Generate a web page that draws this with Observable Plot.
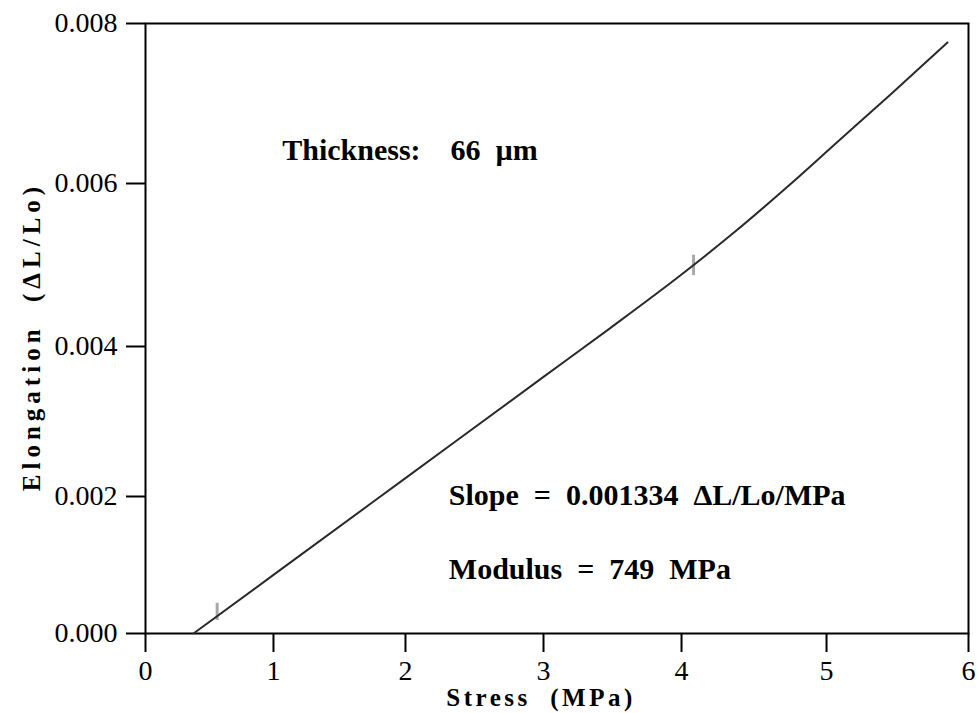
<!DOCTYPE html>
<html>
<head>
<meta charset="utf-8">
<script src="https://cdn.jsdelivr.net/npm/d3@7"></script>
<script src="https://cdn.jsdelivr.net/npm/@observablehq/plot@0.6"></script>
<style>
  html, body { margin: 0; padding: 0; background: white; }
</style>
</head>
<body>
<div id="chart"></div>
<script>
const stress     = [0.375, 1.0, 2.0, 3.0, 3.486, 4.0, 4.372, 4.752, 5.049, 5.451, 5.852];
const elongation = [0.0, 0.000855, 0.002245, 0.003595, 0.004229, 0.004883, 0.005413, 0.005994, 0.006475, 0.007113, 0.007763];

// Fit-range markers (small grey ticks on the trace)
const markerX  = [0.56, 4.083];
const markerY1 = [0.00019, 0.00487];
const markerY2 = [0.00044, 0.00512];

// Axis ticks
const xTicks = [0, 1, 2, 3, 4, 5, 6];
const yTicks = [0.000, 0.002, 0.004, 0.006, 0.008];
// Apparent (slightly uneven) tick spacing of the original axes, as fraction of axis length
const xTickFrac = [0, 0.1555, 0.3159, 0.4836, 0.6513, 0.8275, 1];
const yTickFrac = [0, 0.2246, 0.4705, 0.7377, 1];

// Texts
const xLabel = "Stress\u00a0\u00a0(MPa)";
const yLabel = "Elongation\u00a0\u00a0(\u0394L/Lo)";
const notes = [
  {text: "Thickness:\u00a0\u00a0\u00a0\u00a066\u00a0\u00a0\u00b5m", x: 1.066, y: 0.006296},
  {text: "Slope\u00a0\u00a0=\u00a0\u00a00.001334\u00a0\u00a0\u0394L/Lo/MPa", x: 2.314, y: 0.001869},
  {text: "Modulus\u00a0\u00a0=\u00a0\u00a0749\u00a0\u00a0MPa", x: 2.314, y: 0.000799}
];

const data = stress.map((s, i) => ({s, e: elongation[i]}));
const markers = markerX.map((x, i) => ({x, y1: markerY1[i], y2: markerY2[i]}));

const xWarp = d3.scaleLinear().domain(xTicks).range(xTickFrac);
const yWarp = d3.scaleLinear().domain(yTicks).range(yTickFrac);
const xLab = new Map(xTickFrac.map((f, i) => [f, String(xTicks[i])]));
const yLab = new Map(yTickFrac.map((f, i) => [f, d3.format(".3f")(yTicks[i])]));

const chart = Plot.plot({
  width: 979,
  height: 713,
  marginLeft: 145,
  marginRight: 11,
  marginTop: 23,
  marginBottom: 80,
  style: {fontFamily: "'Liberation Serif', 'Times New Roman', serif", fontSize: "28px", color: "black", background: "white"},
  x: {type: "linear", transform: xWarp, domain: [0, 1]},
  y: {type: "linear", transform: yWarp, domain: [0, 1]},
  marks: [
    Plot.axisX({ticks: xTickFrac, tickSize: 19, tickPadding: 8, strokeWidth: 2, label: null, tickFormat: (d) => xLab.get(d)}),
    Plot.axisY({ticks: yTickFrac, tickSize: 19, tickPadding: 9, strokeWidth: 2, label: null, tickFormat: (d) => yLab.get(d)}),
    Plot.frame({stroke: "black", strokeWidth: 2}),
    Plot.ruleX(markers, {x: "x", y1: "y1", y2: "y2", stroke: "#a8a8a8", strokeWidth: 3}),
    Plot.line(data, {x: "s", y: "e", stroke: "#2a2a2a", strokeWidth: 2, curve: "monotone-x"}),
    Plot.text(notes, {x: "x", y: "y", text: "text", textAnchor: "start", lineAnchor: "bottom", fontWeight: "bold", fontSize: 30}),
    Plot.text([xLabel], {frameAnchor: "bottom", textAnchor: "middle", dx: -16, dy: 64, fontWeight: "bold", fontSize: 25, lineAnchor: "middle"}),
    Plot.text([yLabel], {frameAnchor: "left", textAnchor: "middle", rotate: -90, dx: -114, dy: 8, fontWeight: "bold", fontSize: 25, lineAnchor: "middle"})
  ]
});

d3.select(chart).selectAll("text")
  .filter(function() { return this.textContent === xLabel; })
  .style("letter-spacing", "3.5px");
d3.select(chart).selectAll("text")
  .filter(function() { return this.textContent === yLabel; })
  .style("letter-spacing", "5px");

document.getElementById("chart").appendChild(chart);
</script>
</body>
</html>
